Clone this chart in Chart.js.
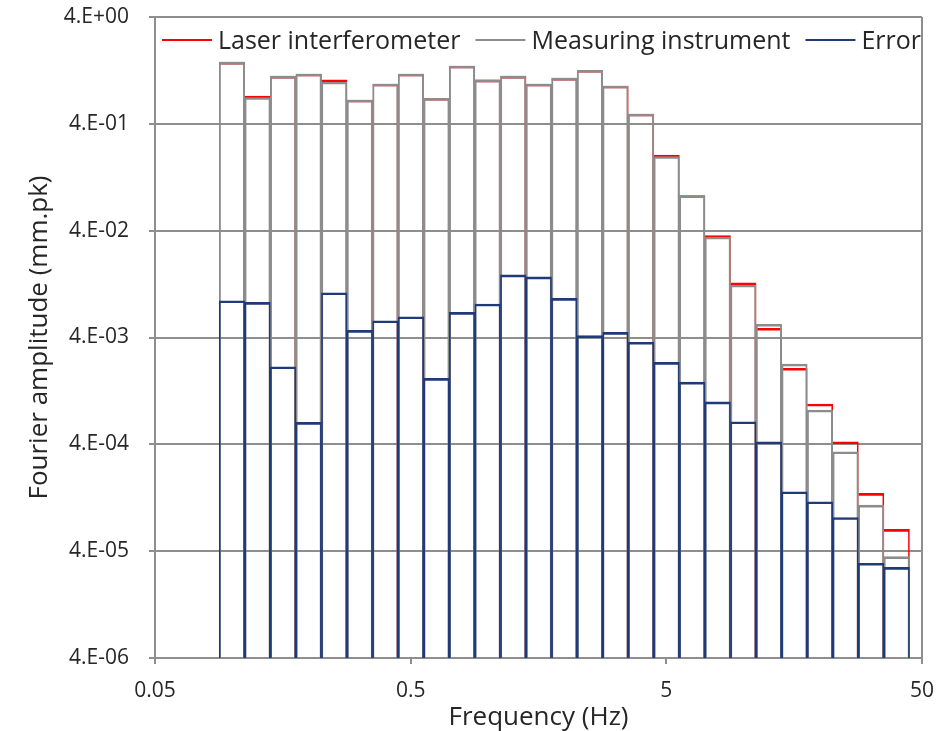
<!DOCTYPE html>
<html>
<head>
<meta charset="utf-8">
<title>Fourier amplitude</title>
<script src="https://cdn.jsdelivr.net/npm/chart.js@4.4.1/dist/chart.umd.min.js"></script>
<style>
  html, body { margin: 0; padding: 0; background: #ffffff; }
  #wrap { width: 948px; height: 731px; }
</style>
</head>
<body>
<div id="wrap"><canvas id="fourierChart" width="948" height="731"></canvas></div>
<script>
// 1/3 octave band centre frequencies (Hz)
const bandFreqs = [0.1, 0.1259, 0.1585, 0.1995, 0.2512, 0.3162, 0.3981, 0.5012, 0.631, 0.7943,
  1, 1.259, 1.585, 1.995, 2.512, 3.162, 3.981, 5.012, 6.31, 7.943,
  10, 12.59, 15.85, 19.95, 25.12, 31.62, 39.81];

// amplitudes (mm.pk)
const laserAmp = [1.51, 0.729, 1.12, 1.17, 1.03, 0.668, 0.944, 1.17, 0.694, 1.39,
  1.03, 1.12, 0.944, 1.07, 1.27, 0.904, 0.494, 0.204, 0.085, 0.036,
  0.013, 0.00488, 0.00206, 0.000954, 0.000423, 0.000139, 0.000064];
const instrumentAmp = [1.51, 0.706, 1.12, 1.17, 0.985, 0.668, 0.944, 1.17, 0.694, 1.39,
  1.03, 1.12, 0.944, 1.07, 1.27, 0.904, 0.494, 0.198, 0.085, 0.0349,
  0.0124, 0.00532, 0.00226, 0.000838, 0.000341, 0.000108, 0.0000355];
const errorAmp = [0.00884, 0.00854, 0.00213, 0.000643, 0.0105, 0.00467, 0.00574, 0.00626, 0.00166, 0.00688,
  0.00823, 0.0154, 0.0148, 0.00931, 0.00416, 0.00447, 0.00361, 0.00234, 0.00153, 0.001,
  0.000651, 0.000423, 0.000144, 0.000116, 0.0000826, 0.0000308, 0.0000282];

const yTickValues = [4e-6, 4e-5, 4e-4, 4e-3, 4e-2, 4e-1, 4];
const yTickLabels = ['4.E-06', '4.E-05', '4.E-04', '4.E-03', '4.E-02', '4.E-01', '4.E+00'];
const xTickValues = [0.05, 0.5, 5, 50];
const xTickLabels = ['0.05', '0.5', '5', '50'];
// ==================

const fontFamily = '"Open Sans", "DejaVu Sans", sans-serif';
const textColor = '#262626';
const gridColor = '#8e8e8e';
const laserColor = '#ff0000';
const instrumentColor = '#8c8c8c';
const errorColor = '#1f3a78';

// bar outline: shared edges of neighbours add up to ~2px
const thinBorder = {top: 2, left: 1, right: 1, bottom: 0};
// gray sides a touch wider so the red ones under them don't bleed through
const grayBorder = {top: 2, left: 1.3, right: 1.3, bottom: 0};
// red left side is always hidden behind the taller bar before it
const redBorder = {top: 2, left: 0, right: 1, bottom: 0};

// legend drawn inside the plot, one row along the top
const insideLegend = {
  id: 'insideLegend',
  afterDraw(chart) {
    const ctx = chart.ctx;
    const area = chart.chartArea;
    ctx.save();
    ctx.font = '25px ' + fontFamily;
    const lineLen = 50, lineGap = 6, itemGap = 15;
    const items = chart.data.datasets.map(ds => ({
      text: ds.label,
      color: ds.borderColor,
      w: ctx.measureText(ds.label).width
    }));
    const total = items.reduce((s, it) => s + lineLen + lineGap + it.w, 0) + itemGap * (items.length - 1);
    let x = (area.left + area.right) / 2 + 3 - total / 2;
    const lineY = area.top + 23;
    items.forEach(it => {
      ctx.strokeStyle = it.color;
      ctx.lineWidth = 2;
      ctx.beginPath();
      ctx.moveTo(x, lineY);
      ctx.lineTo(x + lineLen, lineY);
      ctx.stroke();
      x += lineLen + lineGap;
      ctx.fillStyle = textColor;
      ctx.textBaseline = 'alphabetic';
      ctx.fillText(it.text, x, lineY + 9);
      x += it.w + itemGap;
    });
    ctx.restore();
  }
};

function barSet(label, data, color, order, border) {
  return {
    label: label,
    data: data,
    order: order,
    borderColor: color,
    backgroundColor: 'rgba(0,0,0,0)',
    borderWidth: border,
    borderSkipped: false,
    grouped: false,
    barPercentage: 1,
    categoryPercentage: 1
  };
}

const ctx = document.getElementById('fourierChart').getContext('2d');
const fourierChart = new Chart(ctx, {
  type: 'bar',
  data: {
    labels: bandFreqs,
    datasets: [
      barSet('Laser interferometer', laserAmp, laserColor, 3, redBorder),
      barSet('Measuring instrument', instrumentAmp, instrumentColor, 2, grayBorder),
      barSet('Error', errorAmp, errorColor, 1, thinBorder)
    ]
  },
  options: {
    responsive: false,
    animation: false,
    devicePixelRatio: 1,
    layout: {
      padding: {top: 17, right: 26, bottom: 0, left: 0}
    },
    plugins: {
      legend: {display: false},
      tooltip: {enabled: false}
    },
    scales: {
      x: {
        type: 'logarithmic',
        min: 0.05,
        max: 50,
        offset: false,
        afterBuildTicks: scale => { scale.ticks = xTickValues.map(v => ({value: v})); },
        afterFit: scale => {
          scale.height = 73;
          scale.paddingLeft = 0;
          scale.paddingRight = 0;
        },
        ticks: {
          autoSkip: false,
          maxRotation: 0,
          padding: 14,
          color: textColor,
          font: {family: fontFamily, size: 21},
          callback: (value, index) => xTickLabels[index]
        },
        grid: {
          offset: false,
          color: c => c.index === xTickValues.length - 1 ? gridColor : 'rgba(0,0,0,0)',
          tickColor: gridColor,
          lineWidth: 2,
          tickLength: 6
        },
        border: {color: gridColor, width: 2},
        title: {
          display: true,
          text: 'Frequency (Hz)',
          color: textColor,
          font: {family: fontFamily, size: 26},
          padding: {top: 0, bottom: -2}
        }
      },
      y: {
        type: 'logarithmic',
        min: 4e-6,
        max: 4,
        afterBuildTicks: scale => { scale.ticks = yTickValues.map(v => ({value: v})); },
        afterFit: scale => {
          scale.width = 155;
          scale.paddingTop = 0;
          scale.paddingBottom = 0;
        },
        ticks: {
          autoSkip: false,
          padding: 20,
          color: textColor,
          font: {family: fontFamily, size: 21},
          callback: (value, index) => yTickLabels[index]
        },
        grid: {
          color: gridColor,
          lineWidth: 2,
          tickLength: 6
        },
        border: {color: gridColor, width: 2},
        title: {
          display: true,
          text: 'Fourier amplitude (mm.pk)',
          color: textColor,
          font: {family: fontFamily, size: 26},
          padding: {top: 24, bottom: 0}
        }
      }
    }
  },
  plugins: [insideLegend]
});
</script>
</body>
</html>
